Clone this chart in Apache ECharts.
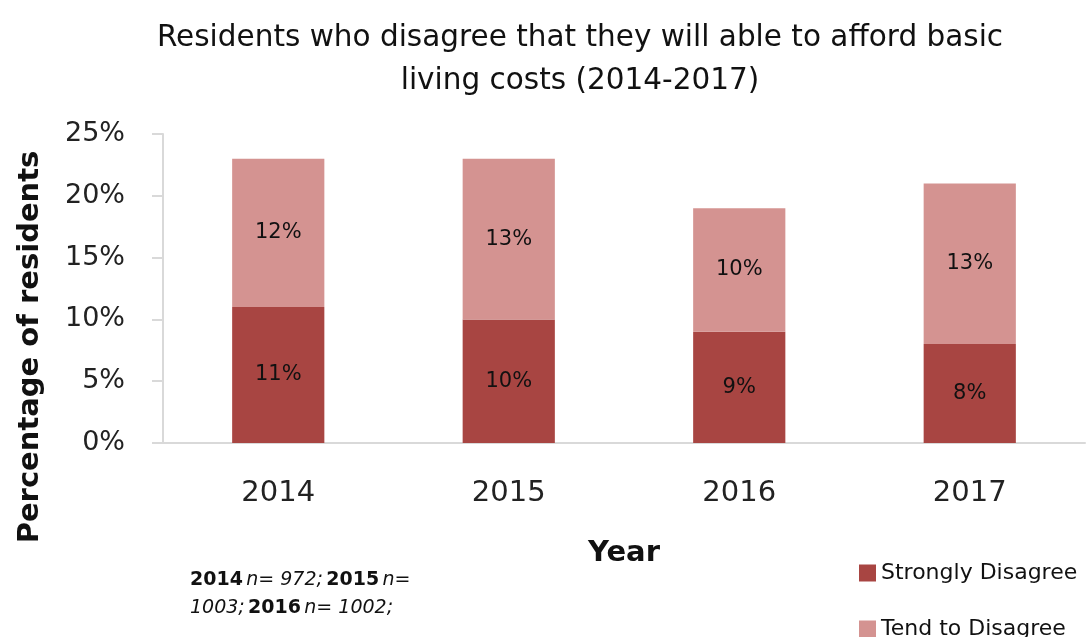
<!DOCTYPE html>
<html><head><meta charset="utf-8">
<script src="https://cdn.jsdelivr.net/npm/echarts@6/dist/echarts.min.js"></script>
<style>html,body{margin:0;padding:0;background:#fff}#c{width:1087px;height:637px}</style>
</head><body><div id="c"></div>
<script>
const categories = ['2014', '2015', '2016', '2017'];
const stronglyDisagree = [11, 10, 9, 8];
const tendToDisagree = [12, 13, 10, 13];
const seriesNames = ['Strongly Disagree', 'Tend to Disagree'];

const FONT = '"DejaVu Sans", "Open Sans", sans-serif';
const chart = echarts.init(document.getElementById('c'));
const labelStyle = { show: true, position: 'inside', formatter: p => p.value + '%', color: '#111', fontSize: 21, fontFamily: FONT };
const legendCommon = {
  orient: 'vertical', left: 854, itemWidth: 17, itemHeight: 17, itemGap: 8, icon: 'rect',
  textStyle: { fontFamily: FONT, fontSize: 22, color: '#111' }
};
chart.setOption({
  animation: false,
  title: {
    text: 'Residents who disagree that they will able to afford basic\nliving costs (2014-2017)',
    left: 575, top: 12, textAlign: 'center',
    textStyle: { fontFamily: FONT, fontSize: 29.5, fontWeight: 'normal', color: '#111', lineHeight: 43 }
  },
  legend: [
    Object.assign({}, legendCommon, { top: 557, data: [seriesNames[0]] }),
    Object.assign({}, legendCommon, { top: 613, data: [seriesNames[1]] })
  ],
  graphic: [{
    type: 'text', left: 190, top: 571,
    style: {
      text: '{b|2014} {i|n= 972;} {b|2015} {i|n=}\n{i|1003;} {b|2016} {i|n= 1002;}',
      rich: {
        b: { fontFamily: FONT, fontSize: 19, fontWeight: 'bold', fill: '#111', lineHeight: 28 },
        i: { fontFamily: FONT, fontSize: 19, fontStyle: 'italic', fill: '#111', lineHeight: 28 }
      }
    }
  }, {
    type: 'text', x: 30, y: 347, rotation: Math.PI / 2,
    style: {
      text: 'Percentage of residents', align: 'center', verticalAlign: 'middle',
      fontFamily: FONT, fontSize: 29, fontWeight: 'bold', fill: '#111'
    }
  }],
  grid: { left: 163, right: 2, top: 134, bottom: 194, containLabel: false },
  xAxis: {
    type: 'category', data: categories,
    name: 'Year', nameLocation: 'middle', nameGap: 96,
    nameTextStyle: { fontFamily: FONT, fontSize: 29, fontWeight: 'bold', color: '#111' },
    axisLine: { lineStyle: { color: '#d9d9d9', width: 2 } },
    axisTick: { show: false },
    axisLabel: { fontFamily: FONT, fontSize: 29, color: '#222', margin: 36 }
  },
  yAxis: {
    type: 'value', min: 0, max: 25, interval: 5,
    axisLine: { show: true, lineStyle: { color: '#d9d9d9', width: 2 } },
    axisTick: { show: true, length: 11, lineStyle: { color: '#d9d9d9', width: 2 } },
    splitLine: { show: false },
    axisLabel: { fontFamily: FONT, fontSize: 27, color: '#222', margin: 38, formatter: '{value}%' }
  },
  series: [
    { name: seriesNames[0], type: 'bar', stack: 's', data: stronglyDisagree, barWidth: '40%',
      itemStyle: { color: '#a84542' }, label: labelStyle },
    { name: seriesNames[1], type: 'bar', stack: 's', data: tendToDisagree, barWidth: '40%',
      itemStyle: { color: '#d49391' }, label: labelStyle }
  ]
});
</script></body></html>
